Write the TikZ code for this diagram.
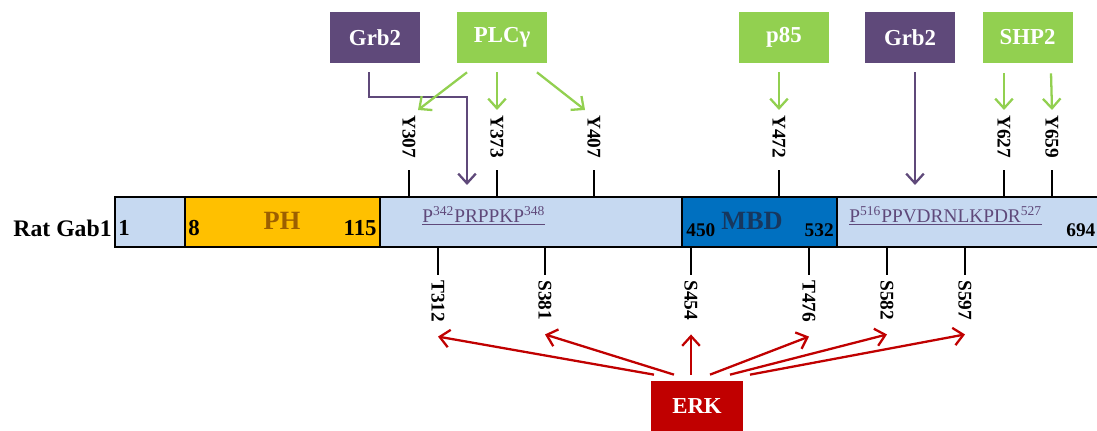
\documentclass[tikz,border=0pt]{standalone}
\usepackage{fontspec}
\setmainfont{Liberation Serif}
\usepackage{xcolor}
\usepackage{tikz}
\usetikzlibrary{arrows.meta,positioning,calc}

\definecolor{gabpurple}{HTML}{5F497A}
\definecolor{gabgreen}{HTML}{92D050}
\definecolor{erkred}{HTML}{C00000}
\definecolor{barblue}{HTML}{C6D9F1}
\definecolor{phorange}{HTML}{FFC000}
\definecolor{mbdblue}{HTML}{0070C0}
\definecolor{phtext}{HTML}{9C5F00}
\definecolor{mbdtext}{HTML}{17375E}

\begin{document}
\begin{tikzpicture}[
    x=0.02cm, y=-0.02cm,
    box/.style={rectangle, minimum width=1.8cm, minimum height=1.02cm, text=white, font=\bfseries\fontsize{13}{15}\selectfont},
    seg/.style={rectangle, draw, line width=1.2pt, minimum height=1cm, outer sep=0pt, inner sep=0pt},
    site/.style={rotate=-90, anchor=west, inner sep=0pt, font=\bfseries\fontsize{11}{13}\selectfont},
    num/.style={inner sep=0pt, font=\bfseries\fontsize{13}{15}\selectfont},
    smallnum/.style={inner sep=0pt, font=\bfseries\fontsize{11}{13}\selectfont},
    motif/.style={inner sep=0pt, anchor=west, text=gabpurple, font=\fontsize{11}{13}\selectfont},
    tick/.style={line width=1.2pt},
    arrow/.style={-{Straight Barb[length=5.5pt,width=10pt]}, line width=1.3pt}
]
    \useasboundingbox (0,0) rectangle (1097,431);

    % protein bar
    \node[seg, fill=barblue, minimum width=1.4cm] (nterm) at (150,222) {};
    \node[seg, fill=phorange, minimum width=3.9cm, right=0pt of nterm] (ph) {};
    \node[seg, fill=barblue, minimum width=6.04cm, right=0pt of ph] (mid) {};
    \node[seg, fill=mbdblue, minimum width=3.1cm, right=0pt of mid] (mbd) {};
    \node[seg, fill=barblue, minimum width=5.3cm, right=0pt of mbd] (cterm) {};

    \node[anchor=east, inner sep=0pt, font=\bfseries\fontsize{13.5}{15}\selectfont] (name) at (112,228) {Rat Gab1};
    \node[num, anchor=west] (pos1) at (118,228) {1};
    \node[num, anchor=west] (pos8) at (188,228) {8};
    \node[num, anchor=east] (pos115) at (377,228) {115};
    \node[inner sep=0pt, text=phtext, font=\bfseries\fontsize{15}{17}\selectfont] (phlab) at (282,221) {PH};
    \node[smallnum, anchor=west] (pos450) at (686,230) {450};
    \node[inner sep=0pt, text=mbdtext, font=\bfseries\fontsize{15}{17}\selectfont] (mbdlab) at (752,221) {MBD};
    \node[smallnum, anchor=east] (pos532) at (834,230) {532};
    \node[smallnum, anchor=west] (pos694) at (1066,230) {694};

    \node[motif] (pxxp1) at (422,216) {\underline{P\textsuperscript{342}PRPPKP\textsuperscript{348}}};
    \node[motif] (pxxp2) at (849,216) {\underline{P\textsuperscript{516}PPVDRNLKPDR\textsuperscript{527}}};

    % tyrosine sites
    \foreach \x/\lab in {409/Y307, 497/Y373, 594/Y407, 779/Y472, 1004/Y627, 1052/Y659} {
        \draw[tick] (\x,197) -- (\x,170);
        \node[site] (\lab) at (\x,115) {\lab};
    }
    % ERK sites
    \foreach \x/\lab in {438/T312, 545/S381, 691/S454, 809/T476, 887/S582, 965/S597} {
        \draw[tick] (\x,247) -- (\x,275);
        \node[site] (\lab) at (\x,280) {\lab};
    }

    % binding partners
    \node[box, fill=gabpurple] (grb2a) at (375,37.5) {Grb2};
    \node[box, fill=gabgreen] (plcg) at (502,37.5) {PLCγ};
    \node[box, fill=gabgreen] (p85) at (784,37.5) {p85};
    \node[box, fill=gabpurple] (grb2b) at (910,37.5) {Grb2};
    \node[box, fill=gabgreen] (shp2) at (1027.5,37.5) {SHP2};
    \node[box, fill=erkred, minimum width=1.84cm, minimum height=1cm] (erk) at (697,406) {ERK};

    \coordinate (grb2site1) at (467,185);
    \coordinate (grb2site2) at (915,185);

    \draw[arrow, gabpurple] ($(grb2a.south)+(-6,9)$) |- ($(grb2site1)+(0,-88)$) -- (grb2site1);
    \draw[arrow, gabpurple] ($(grb2b.south)+(5,9)$) -- (grb2site2);
    \draw[arrow, gabgreen] ($(plcg.south)+(-35,9)$) -- ($(Y307.west)+(9,-5)$);
    \draw[arrow, gabgreen] ($(plcg.south)+(-5,9)$) -- ($(Y373.west)+(0,-5)$);
    \draw[arrow, gabgreen] ($(plcg.south)+(35,9)$) -- ($(Y407.west)+(-9,-5)$);
    \draw[arrow, gabgreen] ($(p85.south)+(-5,9)$) -- ($(Y472.west)+(0,-5)$);
    \draw[arrow, gabgreen] ($(shp2.south)+(-23.5,10)$) -- ($(Y627.west)+(0,-5)$);
    \draw[arrow, gabgreen] ($(shp2.south)+(23.5,10)$) -- ($(Y659.west)+(0,-5)$);

    \foreach \s/\d in {T312/-43, S381/-23, S454/-6, T476/13, S582/33, S597/53}
        \draw[arrow, erkred] ($(erk.north)+(\d,-6)$) -- ($(\s.east)+(0,14)$);
\end{tikzpicture}
\end{document}
